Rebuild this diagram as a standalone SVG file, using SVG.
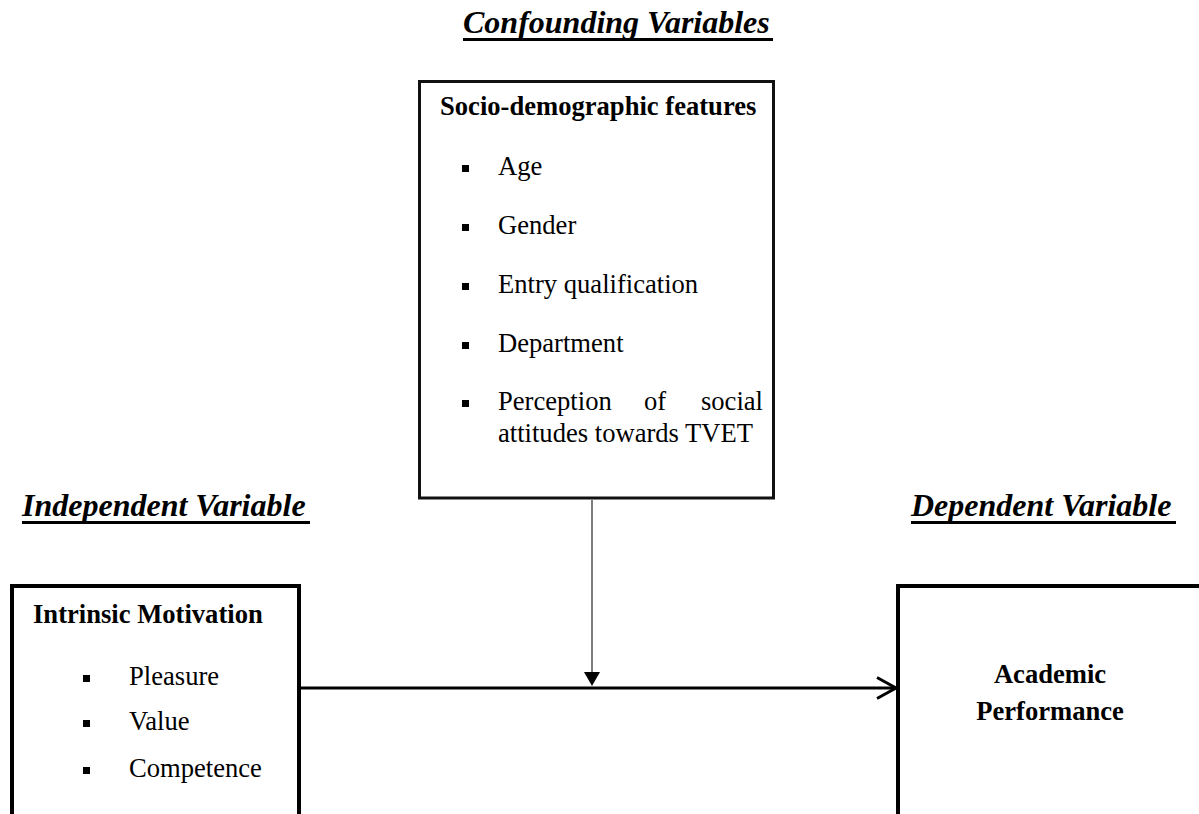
<svg xmlns="http://www.w3.org/2000/svg" width="1199" height="814" viewBox="0 0 1199 814">
<style>
.title{font-family:"Liberation Serif","Times New Roman",serif;font-size:32px;font-weight:bold;font-style:italic;fill:#000}
.ul{stroke:#000;stroke-width:3}
.head{font-family:"Liberation Serif","Times New Roman",serif;font-size:26.6px;font-weight:bold;fill:#000}
.item{font-family:"Liberation Serif","Times New Roman",serif;font-size:26.6px;fill:#000}
.box{fill:#fff;stroke:#000;stroke-width:4}
.bul{fill:#000}
</style>
<rect width="1199" height="814" fill="#fff"/>
<g id="titles">
<text class="title" x="463" y="33">Confounding Variables</text>
<line class="ul" x1="463" y1="39.5" x2="773" y2="39.5"/>
<text class="title" x="22" y="516">Independent Variable</text>
<line class="ul" x1="22" y1="522.5" x2="310" y2="522.5"/>
<text class="title" x="911" y="516">Dependent Variable</text>
<line class="ul" x1="911" y1="522.5" x2="1176" y2="522.5"/>
</g>
<g id="confounders">
<rect x="419.5" y="81.5" width="354" height="416.5" fill="#fff" stroke="#111" stroke-width="3"/>
<text class="head" x="440" y="115">Socio-demographic features</text>
<rect class="bul" x="462" y="165" width="7" height="7"/>
<text class="item" x="498" y="175">Age</text>
<rect class="bul" x="462" y="224" width="7" height="7"/>
<text class="item" x="498" y="234">Gender</text>
<rect class="bul" x="462" y="283" width="7" height="7"/>
<text class="item" x="498" y="293">Entry qualification</text>
<rect class="bul" x="462" y="342" width="7" height="7"/>
<text class="item" x="498" y="352">Department</text>
<rect class="bul" x="462" y="400" width="7" height="7"/>
<text class="item" x="498" y="410">Perception</text>
<text class="item" x="644" y="410">of</text>
<text class="item" x="763" y="410" text-anchor="end">social</text>
<text class="item" x="498" y="442">attitudes towards TVET</text>
</g>
<g id="independent">
<rect class="box" x="12" y="586" width="287" height="240"/>
<text class="head" x="33" y="623">Intrinsic Motivation</text>
<rect class="bul" x="83" y="675" width="7" height="7"/>
<text class="item" x="129" y="685">Pleasure</text>
<rect class="bul" x="83" y="720" width="7" height="7"/>
<text class="item" x="129" y="730">Value</text>
<rect class="bul" x="83" y="767" width="7" height="7"/>
<text class="item" x="129" y="777">Competence</text>
</g>
<g id="dependent">
<rect class="box" x="898" y="586" width="320" height="240"/>
<text class="head" x="1050" y="683" text-anchor="middle">Academic</text>
<text class="head" x="1050" y="720" text-anchor="middle">Performance</text>
</g>
<g id="connectors">
<line x1="592" y1="500" x2="592" y2="673" stroke="#555" stroke-width="1.5"/>
<polygon points="584,672 600,672 592,686" fill="#000"/>
<line x1="301" y1="688" x2="896" y2="688" stroke="#000" stroke-width="3"/>
<polyline points="877,677.5 896,688 877,698.5" fill="none" stroke="#000" stroke-width="3"/>
</g>
</svg>
